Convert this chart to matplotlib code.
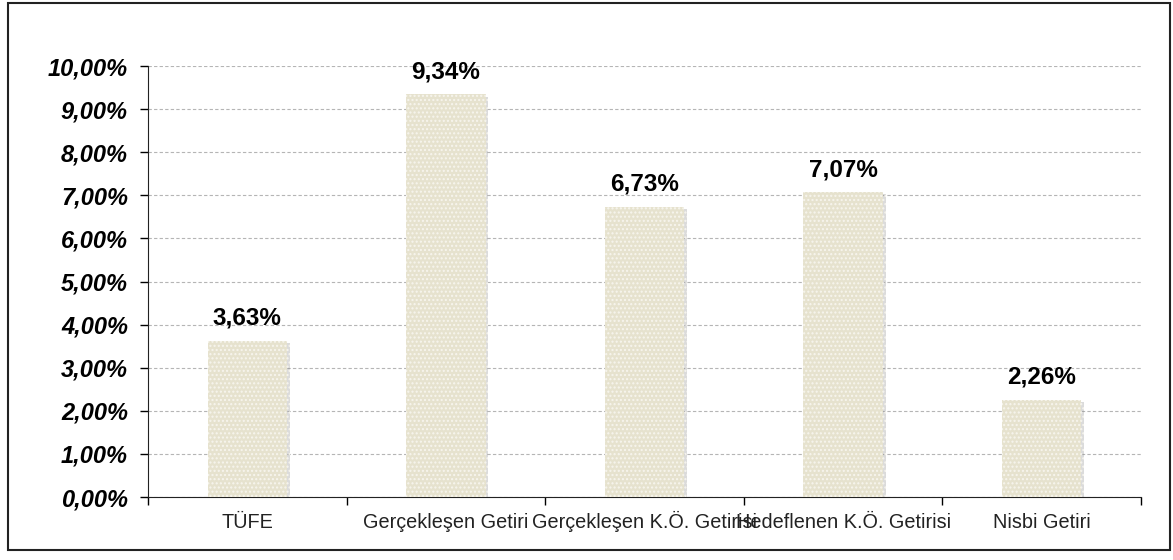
import matplotlib.pyplot as plt
import matplotlib.patheffects as pe
from matplotlib.patches import Rectangle
from matplotlib.ticker import FixedLocator, FuncFormatter

plt.rcParams["font.family"] = ["Liberation Sans", "DejaVu Sans"]

# Chart data
categories = ["TÜFE", "Gerçekleşen Getiri", "Gerçekleşen K.Ö. Getirisi",
              "Hedeflenen K.Ö. Getirisi", "Nisbi Getiri"]
values = [3.63, 9.34, 6.73, 7.07, 2.26]
value_labels = ["3,63%", "9,34%", "6,73%", "7,07%", "2,26%"]
y_ticks = [0, 1, 2, 3, 4, 5, 6, 7, 8, 9, 10]


def pct_fmt(v, _pos):
    return f"{v:.2f}%".replace(".", ",")


fig = plt.figure(figsize=(11.73, 5.6), dpi=100)
ax = fig.add_axes([0.1262, 0.1125, 0.8465, 0.7696])

# outer frame of the chart area
fig.patches.append(Rectangle((0.0068, 0.018), 0.9906, 0.9766, transform=fig.transFigure,
                             fill=False, edgecolor="#222222", linewidth=1.5))

x = list(range(len(categories)))
bars = ax.bar(x, values, width=0.4, color="#e6e2ce", edgecolor="#f7f5ee",
              hatch="....", linewidth=0, zorder=3)
for b in bars:
    b.set_path_effects([pe.SimplePatchShadow(offset=(2, -1.5), shadow_rgbFace="#888888", alpha=0.3),
                        pe.Normal()])

for xi, v, lab in zip(x, values, value_labels):
    ax.annotate(lab, (xi, v), xytext=(0, 8), textcoords="offset points",
                ha="center", va="bottom", fontsize=17.5, fontweight="bold")

ax.set_xlim(-0.5, len(categories) - 0.5)
ax.set_ylim(0, 10)
ax.yaxis.set_major_locator(FixedLocator(y_ticks))
ax.yaxis.set_major_formatter(FuncFormatter(pct_fmt))
ax.grid(axis="y", linestyle=(0, (3, 2)), color="#b5b5b5", linewidth=0.8, zorder=0)

ax.set_xticks(x)
ax.set_xticklabels(categories, fontsize=14.3, color="#222222", va="baseline")
ax.set_xticks([i - 0.5 for i in range(len(categories) + 1)], minor=True)
ax.tick_params(axis="x", which="major", length=0, pad=22)
ax.tick_params(axis="x", which="minor", length=6, width=1, direction="out")
ax.tick_params(axis="y", length=6, width=1, pad=8.5, labelsize=17)
for t in ax.get_yticklabels():
    t.set_fontweight("bold")
    t.set_fontstyle("italic")

for s in ["top", "right"]:
    ax.spines[s].set_visible(False)
ax.spines["left"].set_color("#222222")
ax.spines["bottom"].set_color("#222222")

fig.savefig("out.png", dpi=100)
